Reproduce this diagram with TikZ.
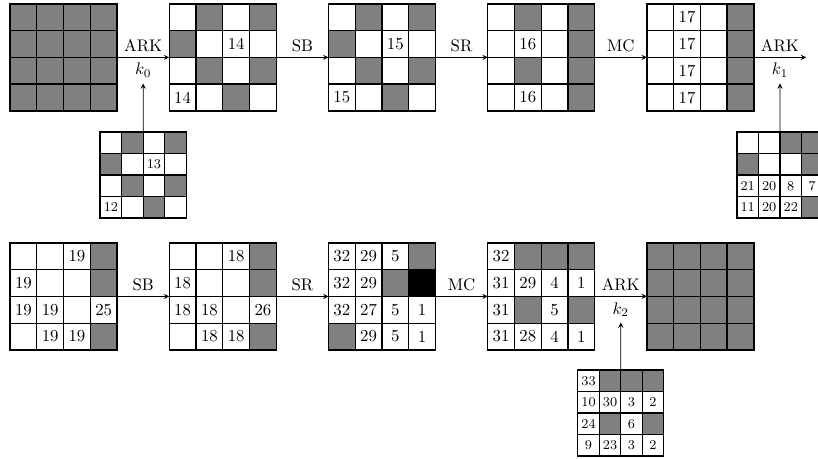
\documentclass[tikz,border=0pt]{standalone}
\usepackage{tikz}
\usetikzlibrary{arrows.meta, positioning, calc}
\usepackage{xcolor}

\colorlet{wh}{white}
\colorlet{gr}{gray}
\colorlet{bk}{black}

% fill the 4x4 cells of a state node, row by row
\newcommand{\fillgrid}[4][]{%
  \foreach \st/\tx [count=\i from 0] in {#4} {
    \pgfmathtruncatemacro{\cellr}{div(\i,4)}
    \pgfmathtruncatemacro{\cellc}{mod(\i,4)}
    \node[cell=#3, fill=\st, #1] at ([shift={(\cellc*#3+0.5*#3, -\cellr*#3-0.5*#3)}]#2.north west) {\tx};
  }%
}

\begin{document}
\begin{tikzpicture}[
    node distance=1.09cm,
    grid/.style={rectangle, draw, thick, minimum size=2.24cm, inner sep=0pt, outer sep=0pt},
    key/.style={grid, minimum size=1.8cm},
    cell/.style={rectangle, draw, thick, minimum size=#1cm, inner sep=0pt, outer sep=0pt},
    arrow/.style={->, >=stealth}
]

\useasboundingbox (0,0) rectangle (17.11,-9.60);

% First row of states
\node[grid, anchor=north west] (s0) at (0.21,-0.08) {};
\node[grid, right=of s0] (s1) {};
\node[grid, right=of s1] (s2) {};
\node[grid, right=of s2] (s3) {};
\node[grid, right=of s3] (s4) {};
\coordinate[right=of s4] (out1);

% Second row of states
\node[grid, below=2.76cm of s0] (t0) {};
\node[grid, right=of t0] (t1) {};
\node[grid, right=of t1] (t2) {};
\node[grid, right=of t2] (t3) {};
\node[grid, right=of t3] (t4) {};

% Round keys under the ARK arrows
\node[key, anchor=north] (key0) at ($(s0.south east)!0.5!(s1.south west)+(0,-0.44)$) {};
\node[key, anchor=north] (key1) at ($(s4.south east)!0.5!(out1 |- s4.south)+(0,-0.44)$) {};
\node[key, anchor=north] (key2) at ($(t3.south east)!0.5!(t4.south west)+(0,-0.42)$) {};

% Cells
\fillgrid{s0}{0.56}{gr/,gr/,gr/,gr/, gr/,gr/,gr/,gr/, gr/,gr/,gr/,gr/, gr/,gr/,gr/,gr/}
\fillgrid{s1}{0.56}{wh/,gr/,wh/,gr/, gr/,wh/,wh/14,wh/, wh/,gr/,wh/,gr/, wh/14,wh/,gr/,wh/}
\fillgrid{s2}{0.56}{wh/,gr/,wh/,gr/, gr/,wh/,wh/15,wh/, wh/,gr/,wh/,gr/, wh/15,wh/,gr/,wh/}
\fillgrid{s3}{0.56}{wh/,gr/,wh/,gr/, wh/,wh/16,wh/,gr/, wh/,gr/,wh/,gr/, wh/,wh/16,wh/,gr/}
\fillgrid{s4}{0.56}{wh/,wh/17,wh/,gr/, wh/,wh/17,wh/,gr/, wh/,wh/17,wh/,gr/, wh/,wh/17,wh/,gr/}

\fillgrid{t0}{0.56}{wh/,wh/,wh/19,gr/, wh/19,wh/,wh/,gr/, wh/19,wh/19,wh/,wh/25, wh/,wh/19,wh/19,gr/}
\fillgrid{t1}{0.56}{wh/,wh/,wh/18,gr/, wh/18,wh/,wh/,gr/, wh/18,wh/18,wh/,wh/26, wh/,wh/18,wh/18,gr/}
\fillgrid{t2}{0.56}{wh/32,wh/29,wh/5,gr/, wh/32,wh/29,gr/,bk/, wh/32,wh/27,wh/5,wh/1, gr/,wh/29,wh/5,wh/1}
\fillgrid{t3}{0.56}{wh/32,gr/,gr/,gr/, wh/31,wh/29,wh/4,wh/1, wh/31,gr/,wh/5,gr/, wh/31,wh/28,wh/4,wh/1}
\fillgrid{t4}{0.56}{gr/,gr/,gr/,gr/, gr/,gr/,gr/,gr/, gr/,gr/,gr/,gr/, gr/,gr/,gr/,gr/}

\fillgrid[font=\footnotesize]{key0}{0.45}{wh/,gr/,wh/,gr/, gr/,wh/,wh/13,wh/, wh/,gr/,wh/,gr/, wh/12,wh/,gr/,wh/}
\fillgrid[font=\footnotesize]{key1}{0.45}{wh/,wh/,gr/,gr/, gr/,wh/,wh/,gr/, wh/21,wh/20,wh/8,wh/7, wh/11,wh/20,wh/22,gr/}
\fillgrid[font=\footnotesize]{key2}{0.45}{wh/33,gr/,gr/,gr/, wh/10,wh/30,wh/3,wh/2, wh/24,gr/,wh/6,gr/, wh/9,wh/23,wh/3,wh/2}

% Arrows, first row
\draw[arrow] (s0) -- node[above] {ARK} node[below] (k0) {$k_0$} (s1);
\draw[arrow] (s1) -- node[above] {SB} (s2);
\draw[arrow] (s2) -- node[above] {SR} (s3);
\draw[arrow] (s3) -- node[above] {MC} (s4);
\draw[arrow] (s4) -- node[above] {ARK} node[below] (k1) {$k_1$} (out1);

% Arrows, second row
\draw[arrow] (t0) -- node[above] {SB} (t1);
\draw[arrow] (t1) -- node[above] {SR} (t2);
\draw[arrow] (t2) -- node[above] {MC} (t3);
\draw[arrow] (t3) -- node[above] {ARK} node[below] (k2) {$k_2$} (t4);

% Key inputs
\draw[arrow] (key0) -- (k0);
\draw[arrow] (key1) -- (k1);
\draw[arrow] (key2) -- (k2);

\end{tikzpicture}
\end{document}
